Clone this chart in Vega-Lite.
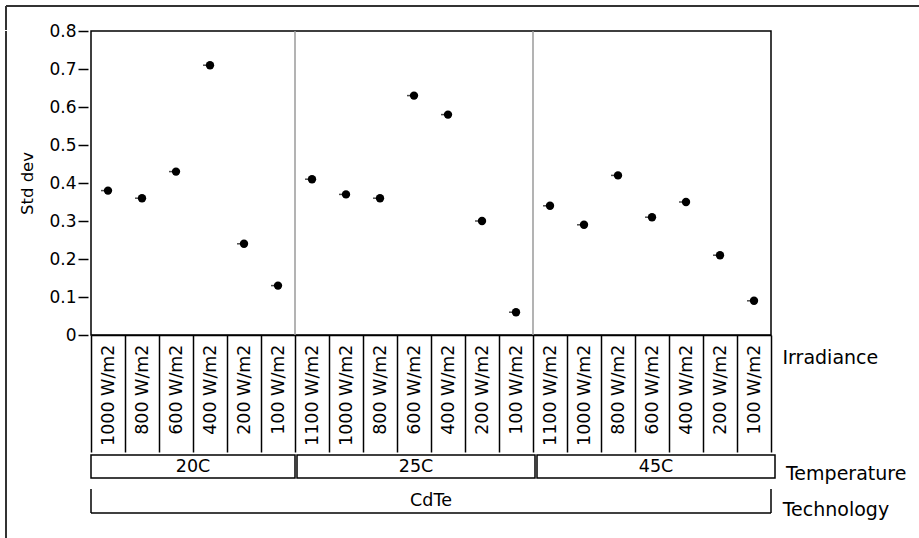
{
  "$schema": "https://vega.github.io/schema/vega-lite/v6.json",
  "background": "white",
  "padding": {"left": 5, "top": 5, "right": 0, "bottom": 0},
  "spacing": -14,
  "resolve": {"scale": {"x": "independent", "y": "independent"}},
  "config": {
    "font": "DejaVu Sans",
    "view": {"stroke": null},
    "title": {"color": "black", "fontWeight": "normal"}
  },
  "datasets": {
    "cells": [
      {"Technology": "CdTe", "Temperature": "20C", "Irradiance": "1000 W/m2", "Cell": "20C 1000 W/m2", "StdDev": 0.38},
      {"Technology": "CdTe", "Temperature": "20C", "Irradiance": "800 W/m2", "Cell": "20C 800 W/m2", "StdDev": 0.36},
      {"Technology": "CdTe", "Temperature": "20C", "Irradiance": "600 W/m2", "Cell": "20C 600 W/m2", "StdDev": 0.43},
      {"Technology": "CdTe", "Temperature": "20C", "Irradiance": "400 W/m2", "Cell": "20C 400 W/m2", "StdDev": 0.71},
      {"Technology": "CdTe", "Temperature": "20C", "Irradiance": "200 W/m2", "Cell": "20C 200 W/m2", "StdDev": 0.24},
      {"Technology": "CdTe", "Temperature": "20C", "Irradiance": "100 W/m2", "Cell": "20C 100 W/m2", "StdDev": 0.13},
      {"Technology": "CdTe", "Temperature": "25C", "Irradiance": "1100 W/m2", "Cell": "25C 1100 W/m2", "StdDev": 0.41},
      {"Technology": "CdTe", "Temperature": "25C", "Irradiance": "1000 W/m2", "Cell": "25C 1000 W/m2", "StdDev": 0.37},
      {"Technology": "CdTe", "Temperature": "25C", "Irradiance": "800 W/m2", "Cell": "25C 800 W/m2", "StdDev": 0.36},
      {"Technology": "CdTe", "Temperature": "25C", "Irradiance": "600 W/m2", "Cell": "25C 600 W/m2", "StdDev": 0.63},
      {"Technology": "CdTe", "Temperature": "25C", "Irradiance": "400 W/m2", "Cell": "25C 400 W/m2", "StdDev": 0.58},
      {"Technology": "CdTe", "Temperature": "25C", "Irradiance": "200 W/m2", "Cell": "25C 200 W/m2", "StdDev": 0.30},
      {"Technology": "CdTe", "Temperature": "25C", "Irradiance": "100 W/m2", "Cell": "25C 100 W/m2", "StdDev": 0.06},
      {"Technology": "CdTe", "Temperature": "45C", "Irradiance": "1100 W/m2", "Cell": "45C 1100 W/m2", "StdDev": 0.34},
      {"Technology": "CdTe", "Temperature": "45C", "Irradiance": "1000 W/m2", "Cell": "45C 1000 W/m2", "StdDev": 0.29},
      {"Technology": "CdTe", "Temperature": "45C", "Irradiance": "800 W/m2", "Cell": "45C 800 W/m2", "StdDev": 0.42},
      {"Technology": "CdTe", "Temperature": "45C", "Irradiance": "600 W/m2", "Cell": "45C 600 W/m2", "StdDev": 0.31},
      {"Technology": "CdTe", "Temperature": "45C", "Irradiance": "400 W/m2", "Cell": "45C 400 W/m2", "StdDev": 0.35},
      {"Technology": "CdTe", "Temperature": "45C", "Irradiance": "200 W/m2", "Cell": "45C 200 W/m2", "StdDev": 0.21},
      {"Technology": "CdTe", "Temperature": "45C", "Irradiance": "100 W/m2", "Cell": "45C 100 W/m2", "StdDev": 0.09}
    ]
  },
  "vconcat": [
    {
      "width": 914,
      "height": 24,
      "data": {"values": [{}]},
      "layer": [
        {
          "mark": {"type": "rule", "color": "#333333", "strokeWidth": 2},
          "encoding": {"y": {"datum": 1, "type": "quantitative", "scale": {"domain": [0, 1], "nice": false}, "axis": null}}
        },
        {
          "mark": {"type": "rule", "color": "#333333", "strokeWidth": 2},
          "encoding": {"x": {"datum": 0, "type": "quantitative", "scale": {"domain": [0, 1], "nice": false}, "axis": null}}
        }
      ]
    },
    {
      "spacing": 12,
      "resolve": {"scale": {"x": "independent", "y": "independent"}},
      "hconcat": [
        {
          "width": 1,
          "height": 520,
          "data": {"values": [{}]},
          "mark": {"type": "rule", "color": "#333333", "strokeWidth": 2},
          "encoding": {"x": {"datum": 0, "type": "quantitative", "scale": {"domain": [0, 1], "nice": false}, "axis": null}}
        },
        {
          "spacing": 0,
          "resolve": {"scale": {"x": "independent", "y": "independent"}},
          "vconcat": [
            {
              "width": 680,
              "height": 304,
              "data": {"name": "cells"},
              "view": {"stroke": "black", "strokeWidth": 1.5},
              "layer": [
                {
                  "mark": {"type": "rule", "color": "#9a9a9a", "strokeWidth": 1.5},
                  "encoding": {
                    "x": {
                      "field": "Cell", "type": "nominal", "sort": null, "bandPosition": 0,
                      "scale": {"paddingInner": 0, "paddingOuter": 0},
                      "axis": {
                        "orient": "bottom", "title": "Irradiance", "titleX": 691, "titleY": 28, "titleAngle": 0, "titleAlign": "left", "titleBaseline": "alphabetic",
                        "titleFontSize": 19, "titleFontWeight": "normal", "titleColor": "black",
                        "tickBand": "extent", "tickSize": 117, "tickWidth": 1.5, "tickColor": "black",
                        "domain": true, "domainColor": "black", "domainWidth": 1.5, "grid": false,
                        "labelAngle": 270, "labelAlign": "right", "labelBaseline": "middle", "labelPadding": -108,
                        "labelFontSize": 17.5, "labelColor": "black", "labelOverlap": false, "labelBound": false, "labelFlush": false,
                        "labelExpr": "substring(datum.label, 4)"
                      }
                    },
                    "strokeOpacity": {"condition": {"test": "datum.Irradiance == '1100 W/m2'", "value": 1}, "value": 0}
                  }
                },
                {
                  "encoding": {
                    "x": {
                      "field": "Cell", "type": "nominal", "sort": null,
                      "scale": {"paddingInner": 0, "paddingOuter": 0},
                      "axis": {
                        "orient": "bottom", "title": "Irradiance", "titleX": 691, "titleY": 28, "titleAngle": 0, "titleAlign": "left", "titleBaseline": "alphabetic",
                        "titleFontSize": 19, "titleFontWeight": "normal", "titleColor": "black",
                        "tickBand": "extent", "tickSize": 117, "tickWidth": 1.5, "tickColor": "black",
                        "domain": true, "domainColor": "black", "domainWidth": 1.5, "grid": false,
                        "labelAngle": 270, "labelAlign": "right", "labelBaseline": "middle", "labelPadding": -108,
                        "labelFontSize": 17.5, "labelColor": "black", "labelOverlap": false, "labelBound": false, "labelFlush": false,
                        "labelExpr": "substring(datum.label, 4)"
                      }
                    },
                    "y": {
                      "field": "StdDev", "type": "quantitative",
                      "scale": {"domain": [0, 0.8], "nice": false},
                      "axis": {
                        "title": "Std dev", "values": [0, 0.1, 0.2, 0.3, 0.4, 0.5, 0.6, 0.7, 0.8], "format": "~g",
                        "grid": false, "domain": false, "offset": 3, "tickSize": 10, "tickWidth": 1.5, "tickColor": "black",
                        "labelFontSize": 17, "labelColor": "black", "labelPadding": 2,
                        "titleFontSize": 16.5, "titleFontWeight": "normal", "titleColor": "black", "titlePadding": 13
                      }
                    }
                  },
                  "layer": [
                    {"mark": {"type": "tick", "color": "black", "size": 7, "thickness": 1.5, "xOffset": -3.5}},
                    {"mark": {"type": "circle", "color": "black", "size": 70, "opacity": 1}}
                  ]
                }
              ]
            },
            {
              "spacing": 0,
              "hconcat": [
                {
                  "width": 204, "height": 23,
                  "view": {"stroke": "black", "strokeWidth": 1.5},
                  "data": {"name": "cells"},
                  "transform": [{"filter": "datum.Temperature == '20C'"}, {"aggregate": [{"op": "count", "as": "n"}], "groupby": ["Temperature"]}],
                  "mark": {"type": "text", "fontSize": 17.5, "baseline": "middle", "color": "black"},
                  "encoding": {"text": {"field": "Temperature"}}
                },
                {
                  "width": 238, "height": 23,
                  "view": {"stroke": "black", "strokeWidth": 1.5},
                  "data": {"name": "cells"},
                  "transform": [{"filter": "datum.Temperature == '25C'"}, {"aggregate": [{"op": "count", "as": "n"}], "groupby": ["Temperature"]}],
                  "mark": {"type": "text", "fontSize": 17.5, "baseline": "middle", "color": "black"},
                  "encoding": {"text": {"field": "Temperature"}}
                },
                {
                  "width": 238, "height": 23,
                  "view": {"stroke": "black", "strokeWidth": 1.5},
                  "data": {"name": "cells"},
                  "title": {"text": "Temperature", "orient": "right", "anchor": "end", "angle": 0, "align": "right", "baseline": "alphabetic", "dy": 2, "offset": 11, "fontSize": 19, "fontWeight": "normal", "color": "black", "font": "DejaVu Sans"},
                  "transform": [{"filter": "datum.Temperature == '45C'"}, {"aggregate": [{"op": "count", "as": "n"}], "groupby": ["Temperature"]}],
                  "mark": {"type": "text", "fontSize": 17.5, "baseline": "middle", "color": "black"},
                  "encoding": {"text": {"field": "Temperature"}}
                }
              ]
            },
            {
              "width": 680,
              "height": 28,
              "data": {"name": "cells"},
              "transform": [{"aggregate": [{"op": "count", "as": "n"}], "groupby": ["Technology"]}],
              "title": {"text": "Technology", "orient": "right", "anchor": "end", "angle": 0, "align": "right", "baseline": "alphabetic", "dy": 2, "offset": 11, "fontSize": 19, "fontWeight": "normal", "color": "black", "font": "DejaVu Sans"},
              "layer": [
                {
                  "mark": {"type": "rule", "color": "black", "strokeWidth": 1.5},
                  "encoding": {
                    "y": {"datum": 0, "type": "quantitative", "scale": {"domain": [0, 28], "nice": false}, "axis": null}
                  }
                },
                {
                  "mark": {"type": "rule", "color": "black", "strokeWidth": 1.5},
                  "encoding": {
                    "x": {"field": "Technology", "type": "nominal", "bandPosition": 0, "scale": {"paddingInner": 0, "paddingOuter": 0}, "axis": null},
                    "y": {"datum": 0, "type": "quantitative", "scale": {"domain": [0, 28], "nice": false}, "axis": null},
                    "y2": {"datum": 24}
                  }
                },
                {
                  "mark": {"type": "rule", "color": "black", "strokeWidth": 1.5},
                  "encoding": {
                    "x": {"field": "Technology", "type": "nominal", "bandPosition": 1, "scale": {"paddingInner": 0, "paddingOuter": 0}, "axis": null},
                    "y": {"datum": 0, "type": "quantitative", "scale": {"domain": [0, 28], "nice": false}, "axis": null},
                    "y2": {"datum": 24}
                  }
                },
                {
                  "mark": {"type": "text", "fontSize": 17.5, "baseline": "middle", "color": "black"},
                  "encoding": {
                    "x": {"field": "Technology", "type": "nominal", "scale": {"paddingInner": 0, "paddingOuter": 0}, "axis": null},
                    "y": {"datum": 12, "type": "quantitative", "scale": {"domain": [0, 28], "nice": false}, "axis": null},
                    "text": {"field": "Technology"}
                  }
                }
              ]
            }
          ]
        }
      ]
    }
  ]
}
